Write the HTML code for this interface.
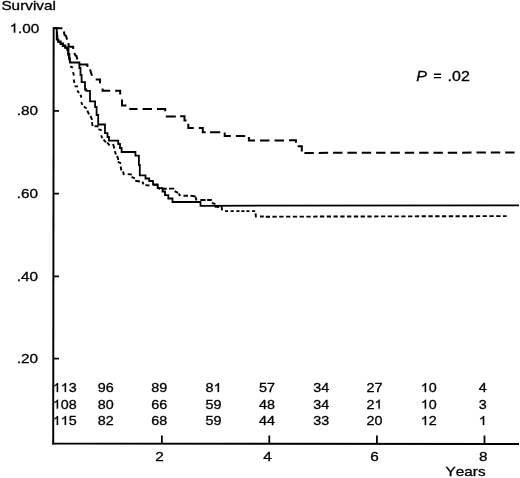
<!DOCTYPE html>
<html><head><meta charset="utf-8"><title>Survival</title>
<style>
html,body{margin:0;padding:0;background:#fff;}
body{width:520px;height:478px;overflow:hidden;}
svg{display:block;filter:grayscale(1) blur(0.35px);}
svg text{font-family:"Liberation Sans",sans-serif;fill:#000;stroke:#000;stroke-width:0.3px;font-kerning:none;}
</style></head><body>
<svg width="520" height="478" viewBox="0 0 520 478">
<rect width="520" height="478" fill="#fff"/>
<path d="M53.65,27.3 L53.2,444.6" stroke="#000" stroke-width="1.95" fill="none"/>
<path d="M52.2,443.6 L519,444.0" stroke="#000" stroke-width="1.95" fill="none"/>
<path d="M53.4,110.9 H59" stroke="#000" stroke-width="1.7" fill="none"/>
<path d="M53.4,193.6 H59" stroke="#000" stroke-width="1.7" fill="none"/>
<path d="M53.4,276.4 H59" stroke="#000" stroke-width="1.7" fill="none"/>
<path d="M53.4,358.6 H59" stroke="#000" stroke-width="1.7" fill="none"/>
<path d="M161.9,435.5 V443.7" stroke="#000" stroke-width="1.8" fill="none"/>
<path d="M269.3,435.5 V443.7" stroke="#000" stroke-width="1.8" fill="none"/>
<path d="M376.9,435.5 V443.7" stroke="#000" stroke-width="1.8" fill="none"/>
<path d="M484.5,435.5 V443.7" stroke="#000" stroke-width="1.8" fill="none"/>
<path d="M53.65,28.2 H56.75 V39.6 H58.5 V41.5 H60.8 V43.5 H63.1 V45.4 H65.4 V47.3 H67.5 V49 H68.5 V54 H69.4 V58.5 H70 V62.5 H79.4 V68 H80.5 V75 H81.6 V82.2 H85 V89.5 H86.3 V90.8 H90 V101.4 H95.1 V107 H96.6 V115 H98.2 V124.5 H105 V133.2 H107.5 V137 H109 V140.6 H118.2 V144 H120 V148 H121.6 V152 H135.4 V155.7 H138.9 V165 H139.8 V175.4 H145.5 V178.5 H149.2 V181 H153 V184.3 H157.7 V188.2 H162.5 V191.5 H165 V195.2 H168.3 V198.5 H172.5 V202 H200.5 V205.8 L519,205.3" stroke="#000" stroke-width="1.8" fill="none" stroke-linejoin="miter"/>
<path d="M57.3,31.5 V35.5 H57.7 V40.6 H58 V42.4 H60.2 V44.4 H62.5 V46.3 H64.8 V48.2 H67 V50 H67.8 V55 H68.8 V59 H69.5 V62" stroke="#000" stroke-width="1.3" fill="none"/>
<path d="M70.2,66.29 L72.9,67.71 M73.1,72.16 L73.9,75.64 M73.7,79.56 L74.5,83.04 M74.55,86.4 L77.95,86.4 M77.24,90.44 L79.06,92.96 M80.57,94.77 L81.43,97.63 M81.1,102.1 L82.5,104.9 M83.83,106.44 L86.67,108.46 M87.32,110.59 L88.98,114.41 M90.53,115.89 L92.17,119.81 M91.93,122.16 L92.57,126.14 M94.55,126.3 L98.65,126.3 M98.36,129.41 L101.74,130.09 M101.15,135.38 L102.15,138.22 M103.49,139.67 L106.01,142.33 M107.2,142.67 L109.6,145.33 M113.08,144.07 L114.32,148.43 M114.86,151.17 L115.94,154.43 M117.18,155.87 L118.32,159.93 M117.79,161.81 L121.11,163.39 M120.61,166.56 L121.39,170.44 M123.09,171.56 L123.91,174.94 M127.75,174.16 L131.75,174.54 M131.6,176.79 L134.9,178.51 M135.26,180.73 L139.94,181.47 M142.45,181.58 L143.45,184.42 M145.35,185.17 L149.45,185.43 M152.85,184.89 L158.15,185.01 M157.39,186.67 L159.91,189.33 M162.05,188.8 L166.75,188.8 M168.95,188.6 L174.25,188.6 M174.6,191.1 L178.0,192.8 M178.55,193.53 L180.25,196.07 M183.45,195.7 L188.05,195.7 M190.36,195.63 L195.64,196.47 M195.69,197.16 L196.51,200.44 M200.35,200.0 L205.65,200.0 M207.15,200.0 L211.85,200.0 M211.87,202.86 L215.43,204.04 M214.55,206.55 L219.25,207.05 M221.55,205.95 L222.05,210.45 M225,211.1 L228.1,211.1 M230.6,211.1 L233.8,211.1 M236.4,211.1 L239.5,211.1 M241.4,211.1 L244.5,211.1 M246.4,211.1 L249.5,211.1 M252,211.1 L255.2,211.1 M255.56,213.45 L255.94,217.45 M260,216.5 L263.8,216.5" stroke="#000" stroke-width="1.9" fill="none" stroke-linecap="butt"/>
<path d="M265.7,216.7 L506.6,216.1" stroke="#000" stroke-width="1.9" fill="none" stroke-dasharray="4.3 2.48"/>
<path d="M53.7,28.2 H62.4 M63.9,31.5 L64.5,35 L66,36 L67.2,39.6 M68.6,43 V46.8 H73.2 V49 M74.2,53 L75.5,55.5 L76.5,56 L77.3,59.5 M78.8,64.6 H87.4 V67 M90,69.4 L92,75.7 M95.7,79.5 H100 V83.2 M102.6,88.5 V90.8 H110.2 M115.2,90.8 H120.2 V94.5 M122,99.5 V105.4 H126.4 M129.4,108.4 L130,109 H137.6 M142.6,109 H152 M157,109 H165.2 V111.3 M165.8,116.5 H175.8 M180.2,116.2 H184.5 V120.5 H186.5 M188.3,123.8 V128 H193.8 M198.8,128 H202.8 V132.2 H205.7 M210,132.2 H220.2 M224.7,132.6 V135.9 H230.8 M235.8,135.9 H245.2 M248.9,137 V140.5 H255 M260,140.5 H269.5 M274.5,140.5 H284 M289,140.3 H295.9 V142.8 M297.6,146.3 H301.8 V151.6" stroke="#000" stroke-width="2.0" fill="none"/>
<path d="M304.4,152.9 L514.7,152.55" stroke="#000" stroke-width="2.0" fill="none" stroke-dasharray="9.4 4.94"/>
<text transform="translate(1.4,10.3) scale(1.17,1)" font-size="13.1" >Survival</text>
<g transform="translate(9.5,32.6) scale(1.17,1)"><path d="M763,0 H583 V1147 Q518,1085 412.5,1023 Q307,961 223,930 V1104 Q374,1175 487,1276 Q600,1377 647,1472 H763 Z" transform="translate(0.000,0) scale(0.006396,-0.006237)" fill="#000" stroke="#000" stroke-width="46.9"/><text x="7.286" y="0" font-size="13.1">.00</text></g>
<text transform="translate(16.8,115.0) scale(1.17,1)" font-size="13.1" >.80</text>
<text transform="translate(16.8,197.8) scale(1.17,1)" font-size="13.1" >.60</text>
<text transform="translate(16.8,280.5) scale(1.17,1)" font-size="13.1" >.40</text>
<text transform="translate(16.8,362.9) scale(1.17,1)" font-size="13.1" >.20</text>
<text transform="translate(155.3,461.3) scale(1.17,1)" font-size="13.1" >2</text>
<text transform="translate(263.2,461.3) scale(1.17,1)" font-size="13.1" >4</text>
<text transform="translate(370.3,461.3) scale(1.17,1)" font-size="13.1" >6</text>
<text transform="translate(478.90000000000003,461.3) scale(1.17,1)" font-size="13.1" >8</text>
<text transform="translate(445.6,476.2) scale(1.17,1)" font-size="13.1" >Years</text>
<text transform="translate(416.3,80.7) scale(1.1,1)" font-size="14.6" font-style="italic">P</text>
<path d="M433.9,74.3 H441.1 M433.9,77.6 H441.1" stroke="#000" stroke-width="1.4" fill="none"/>
<text transform="translate(447.6,80.7) scale(1.14,1)" font-size="14.0" >.02</text>
<g transform="translate(52.7,392.0) scale(1.13,1)"><path d="M763,0 H583 V1147 Q518,1085 412.5,1023 Q307,961 223,930 V1104 Q374,1175 487,1276 Q600,1377 647,1472 H763 Z" transform="translate(0.000,0) scale(0.006201,-0.006046)" fill="#000" stroke="#000" stroke-width="48.4"/><path d="M763,0 H583 V1147 Q518,1085 412.5,1023 Q307,961 223,930 V1104 Q374,1175 487,1276 Q600,1377 647,1472 H763 Z" transform="translate(7.064,0) scale(0.006201,-0.006046)" fill="#000" stroke="#000" stroke-width="48.4"/><text x="14.127" y="0" font-size="12.7">3</text></g>
<text transform="translate(97.7,392.0) scale(1.13,1)" font-size="12.7" >96</text>
<text transform="translate(151.3,392.0) scale(1.13,1)" font-size="12.7" >89</text>
<g transform="translate(205.6,392.0) scale(1.13,1)"><text x="0.000" y="0" font-size="12.7">8</text><path d="M763,0 H583 V1147 Q518,1085 412.5,1023 Q307,961 223,930 V1104 Q374,1175 487,1276 Q600,1377 647,1472 H763 Z" transform="translate(7.064,0) scale(0.006201,-0.006046)" fill="#000" stroke="#000" stroke-width="48.4"/></g>
<text transform="translate(258.9,392.0) scale(1.13,1)" font-size="12.7" >57</text>
<text transform="translate(313.2,392.0) scale(1.13,1)" font-size="12.7" >34</text>
<text transform="translate(366.4,392.0) scale(1.13,1)" font-size="12.7" >27</text>
<g transform="translate(420.7,392.0) scale(1.13,1)"><path d="M763,0 H583 V1147 Q518,1085 412.5,1023 Q307,961 223,930 V1104 Q374,1175 487,1276 Q600,1377 647,1472 H763 Z" transform="translate(0.000,0) scale(0.006201,-0.006046)" fill="#000" stroke="#000" stroke-width="48.4"/><text x="7.064" y="0" font-size="12.7">0</text></g>
<text transform="translate(478.8,392.0) scale(1.13,1)" font-size="12.7" >4</text>
<g transform="translate(52.7,408.6) scale(1.13,1)"><path d="M763,0 H583 V1147 Q518,1085 412.5,1023 Q307,961 223,930 V1104 Q374,1175 487,1276 Q600,1377 647,1472 H763 Z" transform="translate(0.000,0) scale(0.006201,-0.006046)" fill="#000" stroke="#000" stroke-width="48.4"/><text x="7.064" y="0" font-size="12.7">08</text></g>
<text transform="translate(97.7,408.6) scale(1.13,1)" font-size="12.7" >80</text>
<text transform="translate(151.3,408.6) scale(1.13,1)" font-size="12.7" >66</text>
<text transform="translate(205.6,408.6) scale(1.13,1)" font-size="12.7" >59</text>
<text transform="translate(258.9,408.6) scale(1.13,1)" font-size="12.7" >48</text>
<text transform="translate(313.2,408.6) scale(1.13,1)" font-size="12.7" >34</text>
<g transform="translate(366.4,408.6) scale(1.13,1)"><text x="0.000" y="0" font-size="12.7">2</text><path d="M763,0 H583 V1147 Q518,1085 412.5,1023 Q307,961 223,930 V1104 Q374,1175 487,1276 Q600,1377 647,1472 H763 Z" transform="translate(7.064,0) scale(0.006201,-0.006046)" fill="#000" stroke="#000" stroke-width="48.4"/></g>
<g transform="translate(420.7,408.6) scale(1.13,1)"><path d="M763,0 H583 V1147 Q518,1085 412.5,1023 Q307,961 223,930 V1104 Q374,1175 487,1276 Q600,1377 647,1472 H763 Z" transform="translate(0.000,0) scale(0.006201,-0.006046)" fill="#000" stroke="#000" stroke-width="48.4"/><text x="7.064" y="0" font-size="12.7">0</text></g>
<text transform="translate(478.8,408.6) scale(1.13,1)" font-size="12.7" >3</text>
<g transform="translate(52.7,425.0) scale(1.13,1)"><path d="M763,0 H583 V1147 Q518,1085 412.5,1023 Q307,961 223,930 V1104 Q374,1175 487,1276 Q600,1377 647,1472 H763 Z" transform="translate(0.000,0) scale(0.006201,-0.006046)" fill="#000" stroke="#000" stroke-width="48.4"/><path d="M763,0 H583 V1147 Q518,1085 412.5,1023 Q307,961 223,930 V1104 Q374,1175 487,1276 Q600,1377 647,1472 H763 Z" transform="translate(7.064,0) scale(0.006201,-0.006046)" fill="#000" stroke="#000" stroke-width="48.4"/><text x="14.127" y="0" font-size="12.7">5</text></g>
<text transform="translate(97.7,425.0) scale(1.13,1)" font-size="12.7" >82</text>
<text transform="translate(151.3,425.0) scale(1.13,1)" font-size="12.7" >68</text>
<text transform="translate(205.6,425.0) scale(1.13,1)" font-size="12.7" >59</text>
<text transform="translate(258.9,425.0) scale(1.13,1)" font-size="12.7" >44</text>
<text transform="translate(313.2,425.0) scale(1.13,1)" font-size="12.7" >33</text>
<text transform="translate(366.4,425.0) scale(1.13,1)" font-size="12.7" >20</text>
<g transform="translate(420.7,425.0) scale(1.13,1)"><path d="M763,0 H583 V1147 Q518,1085 412.5,1023 Q307,961 223,930 V1104 Q374,1175 487,1276 Q600,1377 647,1472 H763 Z" transform="translate(0.000,0) scale(0.006201,-0.006046)" fill="#000" stroke="#000" stroke-width="48.4"/><text x="7.064" y="0" font-size="12.7">2</text></g>
<g transform="translate(478.8,425.0) scale(1.13,1)"><path d="M763,0 H583 V1147 Q518,1085 412.5,1023 Q307,961 223,930 V1104 Q374,1175 487,1276 Q600,1377 647,1472 H763 Z" transform="translate(0.000,0) scale(0.006201,-0.006046)" fill="#000" stroke="#000" stroke-width="48.4"/></g>
</svg>
</body></html>
